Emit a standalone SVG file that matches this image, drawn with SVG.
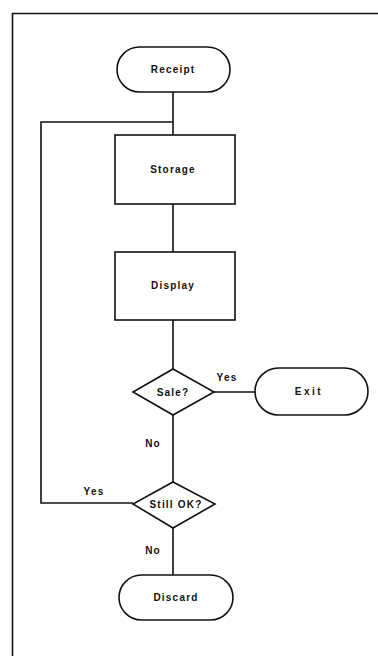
<svg xmlns="http://www.w3.org/2000/svg" width="378" height="656" viewBox="0 0 378 656">
<style>
.s{fill:#fff;stroke:#111;stroke-width:1.6}
.c{fill:none;stroke:#111;stroke-width:1.6}
text{font-family:"Liberation Sans",Arial,sans-serif;font-weight:bold;font-size:10px;letter-spacing:1.2px;fill:#111;text-anchor:middle;dominant-baseline:central}
</style>
<rect width="378" height="656" fill="#fff"/>
<path class="c" d="M12.5,656 V13.5 H378"/>
<g id="connectors">
<path class="c" d="M173,92 V135"/>
<path class="c" d="M173,204 V252"/>
<path class="c" d="M173,320 V369"/>
<path class="c" d="M214,392 H255"/>
<path class="c" d="M173,415 V482"/>
<path class="c" d="M133,503 H41 V122 H173"/>
<path class="c" d="M173,528 V575"/>
<text x="227" y="377">Yes</text>
<text x="153" y="443">No</text>
<text x="94" y="491">Yes</text>
<text x="153" y="550">No</text>
</g>
<g id="receipt"><rect class="s" x="117" y="47" width="113" height="45" rx="22.5"/><text x="173" y="69.5">Receipt</text></g>
<g id="storage"><rect class="s" x="115" y="135" width="120" height="69"/><text x="173" y="169.5">Storage</text></g>
<g id="display"><rect class="s" x="115" y="252" width="120" height="68"/><text x="173" y="285">Display</text></g>
<g id="sale"><path class="s" d="M173,369 L214,392 L173,415 L133,392 Z"/><text x="173" y="392">Sale?</text></g>
<g id="exit"><rect class="s" x="255" y="368" width="113" height="47" rx="23.5"/><text x="309" y="391.5" style="letter-spacing:2.5px">Exit</text></g>
<g id="stillok"><path class="s" d="M173,482 L215,504 L173,528 L133,504 Z"/><text x="176" y="504">Still OK?</text></g>
<g id="discard"><rect class="s" x="119" y="575" width="114" height="45" rx="22.5"/><text x="176" y="597.5">Discard</text></g>
</svg>
